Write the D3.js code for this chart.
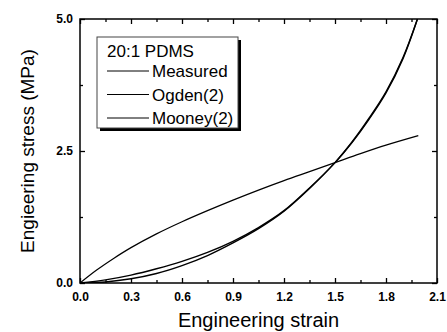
<!DOCTYPE html>
<html>
<head>
<meta charset="utf-8">
<script src="https://cdn.jsdelivr.net/npm/d3@7"></script>
<style>
  html, body { margin: 0; padding: 0; background: #fff; }
  svg { display: block; font-family: Arial, "Liberation Sans", sans-serif; }
</style>
</head>
<body>
<div id="chart"></div>
<script>
// strain values (x) and stress values (MPa) for each curve
const measuredStrain = [0, 0.15, 0.3, 0.45, 0.6, 0.75, 0.9, 1.05, 1.2, 1.35, 1.5, 1.6, 1.7, 1.8, 1.9, 1.985];
const measuredStress = [0, 0.06, 0.15, 0.27, 0.41, 0.58, 0.79, 1.05, 1.37, 1.8, 2.28, 2.66, 3.1, 3.6, 4.25, 5.0];
const ogdenStrain = [0, 0.15, 0.3, 0.45, 0.6, 0.75, 0.9, 1.05, 1.2, 1.35, 1.5, 1.6, 1.7, 1.8, 1.9, 1.985];
const ogdenStress = [0, 0.02, 0.08, 0.18, 0.33, 0.52, 0.76, 1.03, 1.36, 1.79, 2.28, 2.67, 3.12, 3.62, 4.27, 5.0];
const mooneyStrain = [0, 0.1, 0.2, 0.3, 0.45, 0.6, 0.75, 0.9, 1.05, 1.2, 1.35, 1.5, 1.65, 1.8, 1.99];
const mooneyStress = [0, 0.25, 0.47, 0.67, 0.93, 1.16, 1.37, 1.57, 1.76, 1.94, 2.11, 2.28, 2.45, 2.61, 2.79];

const xTicks = [0, 0.3, 0.6, 0.9, 1.2, 1.5, 1.8, 2.1];
const xMinor = [0.15, 0.45, 0.75, 1.05, 1.35, 1.65, 1.95];
const yTicks = [0, 2.5, 5];
const yMinor = [1.25, 3.75];

const legendTitle = '20:1 PDMS';
const seriesNames = ['Measured', 'Ogden(2)', 'Mooney(2)'];

const width = 447, height = 332;
const margin = { top: 19, right: 10, bottom: 49, left: 80 };
const innerW = width - margin.left - margin.right;
const innerH = height - margin.top - margin.bottom;

const svg = d3.select('#chart').append('svg')
  .attr('width', width)
  .attr('height', height);

const g = svg.append('g')
  .attr('transform', `translate(${margin.left},${margin.top})`);

const x = d3.scaleLinear().domain([0, 2.1]).range([0, innerW]);
const y = d3.scaleLinear().domain([0, 5]).range([innerH, 0]);

g.append('clipPath').attr('id', 'clip')
  .append('rect').attr('width', innerW).attr('height', innerH);

// axes, ticks pointing inward
function styleAxis(sel) {
  sel.select('.domain').remove();
  sel.selectAll('line').attr('stroke', '#000').attr('stroke-width', 1.3);
  sel.selectAll('text')
    .attr('fill', '#000')
    .style('font-size', '12px')
    .style('font-weight', 'bold');
}

g.append('g').attr('transform', `translate(0,${innerH})`)
  .call(d3.axisBottom(x).tickValues(xTicks).tickSize(-5).tickPadding(9).tickFormat(d3.format('.1f')))
  .call(styleAxis);
g.append('g').attr('transform', `translate(0,${innerH})`)
  .call(d3.axisBottom(x).tickValues(xMinor).tickSize(-3).tickFormat(''))
  .call(styleAxis);
g.append('g')
  .call(d3.axisTop(x).tickValues(xTicks).tickSize(-5).tickFormat(''))
  .call(styleAxis);
g.append('g')
  .call(d3.axisTop(x).tickValues(xMinor).tickSize(-3).tickFormat(''))
  .call(styleAxis);

g.append('g')
  .call(d3.axisLeft(y).tickValues(yTicks).tickSize(-5).tickPadding(7).tickFormat(d3.format('.1f')))
  .call(styleAxis);
g.append('g')
  .call(d3.axisLeft(y).tickValues(yMinor).tickSize(-3).tickFormat(''))
  .call(styleAxis);
g.append('g').attr('transform', `translate(${innerW},0)`)
  .call(d3.axisRight(y).tickValues(yTicks).tickSize(-5).tickFormat(''))
  .call(styleAxis);
g.append('g').attr('transform', `translate(${innerW},0)`)
  .call(d3.axisRight(y).tickValues(yMinor).tickSize(-3).tickFormat(''))
  .call(styleAxis);

// frame
g.append('rect')
  .attr('width', innerW)
  .attr('height', innerH)
  .attr('fill', 'none')
  .attr('stroke', '#000')
  .attr('stroke-width', 1.5);

// curves
const line = d3.line()
  .x(d => x(d[0]))
  .y(d => y(d[1]))
  .curve(d3.curveCatmullRom);

const curves = [
  d3.zip(measuredStrain, measuredStress),
  d3.zip(ogdenStrain, ogdenStress),
  d3.zip(mooneyStrain, mooneyStress)
];

g.append('g').attr('clip-path', 'url(#clip)')
  .selectAll('path')
  .data(curves)
  .enter().append('path')
  .attr('fill', 'none')
  .attr('stroke', '#000')
  .attr('stroke-width', (d, i) => i === 2 ? 1.2 : 1.4)
  .attr('d', line);

// legend
const lg = svg.append('g').attr('transform', 'translate(97,37)');
lg.append('rect')
  .attr('x', 3).attr('y', 3)
  .attr('width', 141).attr('height', 91)
  .attr('fill', '#000');
lg.append('rect')
  .attr('width', 141).attr('height', 91)
  .attr('fill', '#fff')
  .attr('stroke', '#444')
  .attr('stroke-width', 1);
lg.append('text')
  .attr('x', 10).attr('y', 20)
  .style('font-size', '17px')
  .text(legendTitle);

const items = lg.selectAll('.legend-item')
  .data(seriesNames)
  .enter().append('g')
  .attr('class', 'legend-item')
  .attr('transform', (d, i) => `translate(0, ${34 + i * 23.5})`);
items.append('line')
  .attr('x1', 10).attr('x2', 52)
  .attr('stroke', '#000')
  .attr('stroke-width', 1);
items.append('text')
  .attr('x', 55).attr('y', 6)
  .style('font-size', '17px')
  .text(d => d);

// axis titles
svg.append('text')
  .attr('x', margin.left + innerW / 2)
  .attr('y', 327)
  .attr('text-anchor', 'middle')
  .style('font-size', '20px')
  .text('Engineering strain');

svg.append('text')
  .attr('transform', `translate(34,${margin.top + innerH / 2}) rotate(-90)`)
  .attr('text-anchor', 'middle')
  .style('font-size', '19px')
  .text('Engieering stress (MPa)');
</script>
</body>
</html>
